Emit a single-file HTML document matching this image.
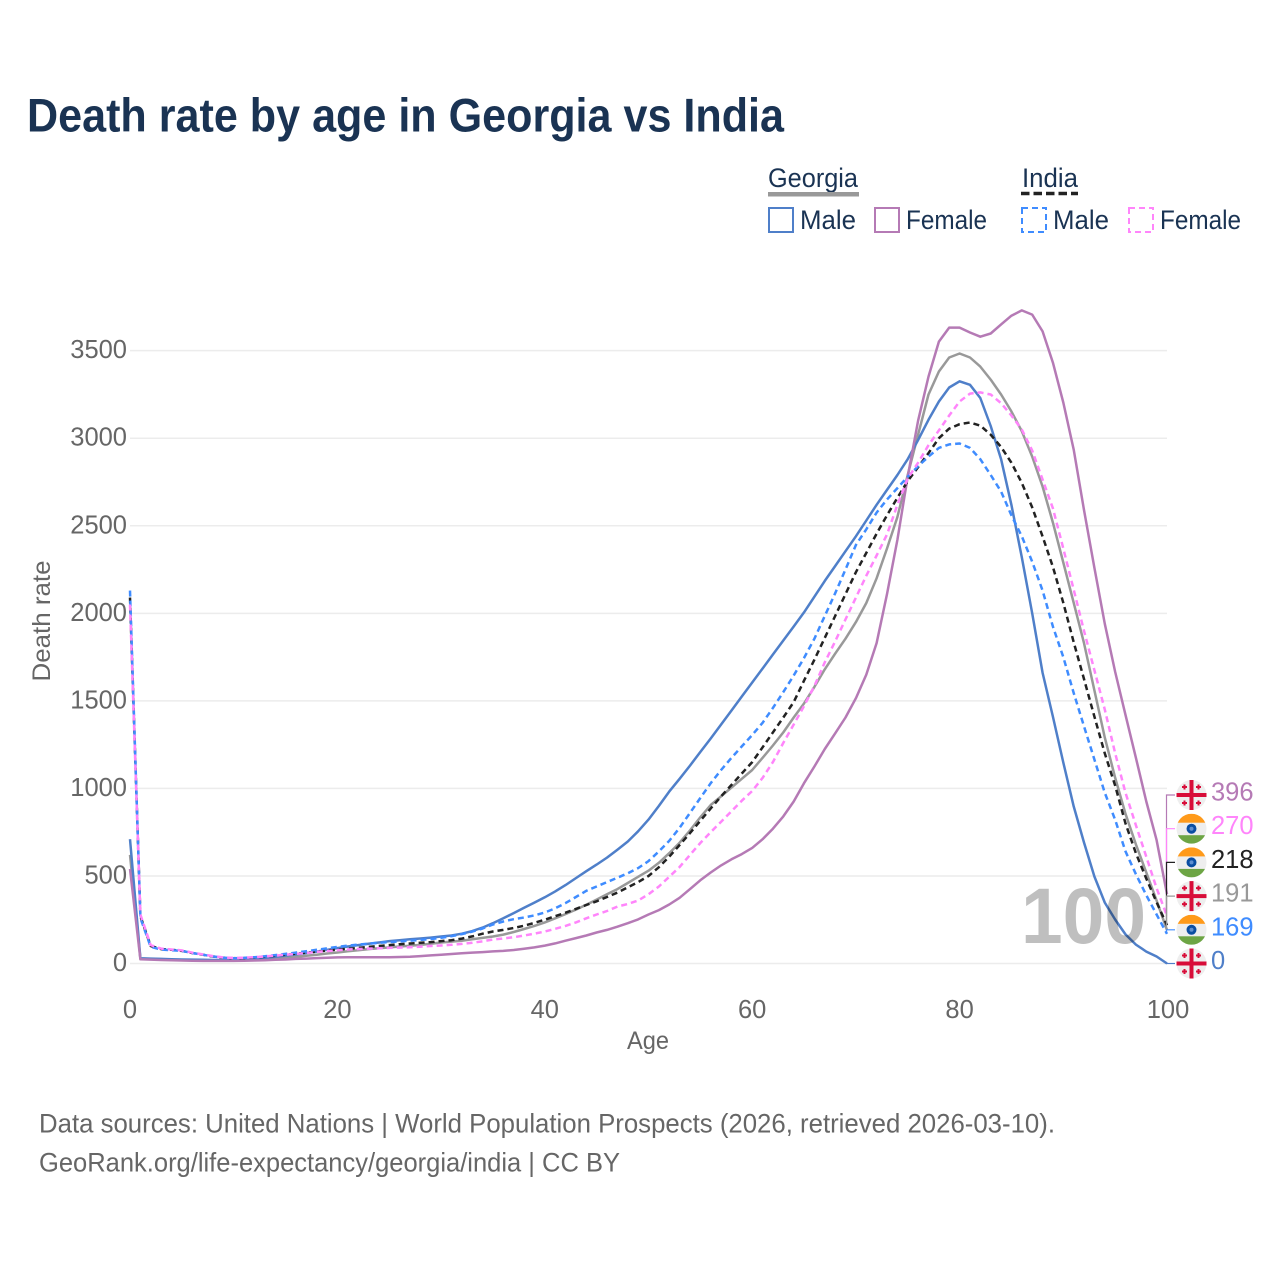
<!DOCTYPE html>
<html lang="en">
<head>
<meta charset="utf-8">
<title>Death rate by age in Georgia vs India</title>
<style>
html,body{margin:0;padding:0;background:#fff;}
svg{display:block;font-family:"Liberation Sans",sans-serif;}
</style>
</head>
<body>
<svg id="chart" xmlns="http://www.w3.org/2000/svg" width="1280" height="1280" viewBox="0 0 1280 1280">
  <defs>
    <clipPath id="flag-clip"><circle cx="0" cy="0" r="15"/></clipPath>
    <symbol id="flag-georgia" overflow="visible">
      <circle cx="0" cy="0" r="15" fill="#eeeeee"/>
      <rect x="-15" y="-2" width="30" height="4" fill="#d80d39"/>
      <rect x="-2" y="-15" width="4" height="30" fill="#d80d39"/>
      <path d="M-9.500-8h5M-7-10.500v5M4.500-8h5M7-10.500v5M-9.500 8h5M-7 5.500v5M4.500 8h5M7 5.500v5" stroke="#d80d39" stroke-width="2" fill="none"/>
    </symbol>
    <symbol id="flag-india" overflow="visible">
      <g clip-path="url(#flag-clip)">
        <rect x="-15" y="-15" width="30" height="30" fill="#eeeeee"/>
        <rect x="-15" y="-15" width="30" height="9" fill="#ff9a1a"/>
        <rect x="-15" y="6.500" width="30" height="8.500" fill="#6da544"/>
      </g>
      <circle cx="0" cy="0" r="5" fill="#0b4ea2"/>
      <circle cx="0" cy="0" r="2" fill="#5f8fd0"/>
    </symbol>
  </defs>

  <text x="27" y="131.500" font-size="47" font-weight="700" fill="#1a3353" textLength="757" lengthAdjust="spacingAndGlyphs">Death rate by age in Georgia vs India</text>

  <g fill="#1a3353" font-size="27">
    <text x="768" y="187" textLength="90" lengthAdjust="spacingAndGlyphs">Georgia</text>
    <rect x="768" y="192" width="91" height="4.500" fill="#999999"/>
    <text x="1022" y="187" textLength="56" lengthAdjust="spacingAndGlyphs">India</text>
    <line x1="1021" y1="193.500" x2="1078" y2="193.500" stroke="#222222" stroke-width="3.500" stroke-dasharray="8.500 4"/>
    <rect x="769" y="208" width="24" height="24" fill="none" stroke="#4f7fc9" stroke-width="2"/>
    <text x="800" y="229" textLength="56" lengthAdjust="spacingAndGlyphs">Male</text>
    <rect x="875" y="208" width="24" height="24" fill="none" stroke="#b57ab5" stroke-width="2"/>
    <text x="906" y="229" textLength="81" lengthAdjust="spacingAndGlyphs">Female</text>
    <rect x="1022" y="208" width="24" height="24" fill="none" stroke="#3f8cff" stroke-width="2" stroke-dasharray="6 4"/>
    <text x="1053" y="229" textLength="56" lengthAdjust="spacingAndGlyphs">Male</text>
    <rect x="1129" y="208" width="24" height="24" fill="none" stroke="#ff85fb" stroke-width="2" stroke-dasharray="6 4"/>
    <text x="1160" y="229" textLength="81" lengthAdjust="spacingAndGlyphs">Female</text>
  </g>

  <g id="grid"></g>
  <g id="y-ticks" fill="#666666" font-size="25.500" text-anchor="end"></g>
  <g id="x-ticks" fill="#666666" font-size="25.500" text-anchor="middle"></g>
  <text x="648" y="1049" fill="#666666" font-size="25" text-anchor="middle" textLength="42" lengthAdjust="spacingAndGlyphs">Age</text>
  <text transform="translate(50,621) rotate(-90)" fill="#666666" font-size="25" text-anchor="middle" textLength="121" lengthAdjust="spacingAndGlyphs">Death rate</text>

  <g id="series"></g>
  <text id="age-watermark" x="1021" y="943" fill="#000000" fill-opacity="0.25" font-size="79" font-weight="700" textLength="125" lengthAdjust="spacingAndGlyphs">100</text>
  <g id="connectors"></g>
  <g id="end-labels"></g>

  <g fill="#666666" font-size="27">
    <text x="39" y="1132.500" textLength="1016" lengthAdjust="spacingAndGlyphs">Data sources: United Nations | World Population Prospects (2026, retrieved 2026-03-10).</text>
    <text x="39" y="1171.500" textLength="581" lengthAdjust="spacingAndGlyphs">GeoRank.org/life-expectancy/georgia/india | CC BY</text>
  </g>
</svg>
<script>
var yTickValues = [0, 500, 1000, 1500, 2000, 2500, 3000, 3500];
var xTickValues = [0, 20, 40, 60, 80, 100];

var georgiaTotal = [620,27,25,23,21,20,19,18,18,18,18,20,22,25,29,34,39,44,50,57,63,70,76,82,87,92,97,101,106,113,120,125,130,138,146,154,165,180,197,215,235,258,282,308,336,365,395,425,460,495,530,575,630,690,760,835,905,955,1005,1055,1105,1175,1245,1320,1405,1485,1580,1680,1770,1855,1950,2059,2200,2370,2550,2790,3020,3250,3381,3461,3484,3461,3409,3335,3250,3153,3040,2895,2724,2518,2290,2060,1830,1560,1290,1060,855,680,520,360,191];
var georgiaMale = [710,30,28,26,24,23,22,21,20,20,21,23,27,32,38,45,52,60,68,78,88,97,105,113,120,128,133,138,143,148,154,160,170,185,205,230,258,288,318,348,378,412,448,488,527,565,605,650,697,755,822,900,982,1055,1130,1208,1285,1365,1445,1525,1605,1685,1765,1845,1925,2005,2095,2185,2270,2355,2440,2530,2620,2705,2790,2880,2990,3105,3210,3290,3325,3305,3230,3070,2880,2620,2320,2000,1660,1410,1148,897,691,497,348,251,166,108,68,40,0];
var georgiaFemale = [540,24,22,20,18,17,16,15,15,15,15,16,17,19,21,23,26,28,31,33,35,36,36,36,36,36,37,39,42,46,50,54,58,62,65,69,72,77,84,92,102,115,130,145,160,177,192,210,230,252,280,305,337,375,425,475,520,560,595,625,660,710,770,840,925,1030,1125,1225,1315,1405,1515,1650,1830,2110,2420,2780,3100,3352,3552,3632,3632,3604,3580,3598,3650,3700,3730,3706,3610,3432,3204,2935,2590,2260,1940,1665,1420,1175,925,705,396];
var indiaTotal = [2090,270,100,82,78,72,60,50,40,33,30,31,34,38,44,50,56,62,68,74,79,84,89,95,100,105,110,114,118,122,128,133,142,155,170,183,192,203,216,232,250,270,290,312,334,355,380,405,435,465,500,550,610,677,745,815,885,955,1020,1085,1150,1235,1320,1405,1493,1615,1735,1860,1985,2110,2235,2345,2455,2560,2660,2755,2835,2915,3000,3055,3080,3090,3072,3020,2950,2860,2745,2605,2439,2265,2060,1835,1625,1410,1200,1015,800,630,485,350,218];
var indiaMale = [2130,260,95,80,76,72,60,50,40,33,30,32,36,41,48,55,62,70,78,87,95,102,108,113,118,122,126,130,135,140,147,156,168,182,200,223,240,253,263,275,291,315,345,380,415,440,465,490,515,545,585,640,700,775,860,945,1030,1105,1175,1240,1305,1375,1460,1550,1645,1745,1855,1985,2115,2250,2390,2480,2575,2650,2715,2780,2840,2895,2945,2965,2970,2945,2880,2790,2695,2560,2440,2295,2130,1925,1750,1545,1355,1165,975,820,640,510,390,280,169];
var indiaFemale = [2050,280,105,85,80,75,62,52,42,35,32,33,36,40,45,50,55,60,66,71,76,80,83,85,87,89,91,93,96,100,103,107,112,118,127,137,143,150,160,170,183,198,215,235,258,280,300,325,340,360,395,440,495,551,620,688,750,810,870,930,985,1060,1150,1260,1365,1470,1585,1720,1840,1965,2090,2215,2330,2450,2620,2770,2860,2960,3045,3130,3210,3255,3262,3250,3200,3130,3050,2930,2764,2600,2370,2135,1900,1675,1450,1200,975,790,610,430,270];

var seriesList = [
  {name: 'georgia-total',  values: georgiaTotal,  color: '#999999', dash: '',    width: 2.5, flag: 'flag-georgia'},
  {name: 'georgia-male',   values: georgiaMale,   color: '#4f7fc9', dash: '',    width: 2.5, flag: 'flag-georgia'},
  {name: 'georgia-female', values: georgiaFemale, color: '#b57ab5', dash: '',    width: 2.5, flag: 'flag-georgia'},
  {name: 'india-total',    values: indiaTotal,    color: '#222222', dash: '6 4', width: 2.5, flag: 'flag-india'},
  {name: 'india-male',     values: indiaMale,     color: '#3f8cff', dash: '6 4', width: 2.5, flag: 'flag-india'},
  {name: 'india-female',   values: indiaFemale,   color: '#ff85fb', dash: '6 4', width: 2.5, flag: 'flag-india'}
];

var NS = 'http://www.w3.org/2000/svg';
function xScale(age) { return 130 + age * 10.37; }
function yScale(value) { return 963.5 - value * 0.17509; }
function make(tag, parent) {
  var el = document.createElementNS(NS, tag);
  parent.appendChild(el);
  return el;
}

var gridGroup = document.getElementById('grid');
var yTickGroup = document.getElementById('y-ticks');
yTickValues.forEach(function (v) {
  var gridLine = make('line', gridGroup);
  
  
  gridLine.setAttribute('x1', xScale(0));
  gridLine.setAttribute('x2', xScale(100));
  gridLine.setAttribute('y1', yScale(v));
  gridLine.setAttribute('y2', yScale(v));
  gridLine.setAttribute('stroke', '#ececec');
  gridLine.setAttribute('stroke-width', '1.5');
  var label = make('text', yTickGroup);
  
  
  label.setAttribute('x', 127);
  label.setAttribute('y', yScale(v) + 7.5);
  label.textContent = v;
});

var xTickGroup = document.getElementById('x-ticks');
xTickValues.forEach(function (a) {
  var label = make('text', xTickGroup);
  
  
  label.setAttribute('x', xScale(a) + (a === 100 ? 1 : 0));
  label.setAttribute('y', 1018);
  label.textContent = a;
});

var seriesGroup = document.getElementById('series');
seriesList.forEach(function (s) {
  var line = make('polyline', seriesGroup);
  
  
  line.setAttribute('fill', 'none');
  line.setAttribute('stroke', s.color);
  line.setAttribute('stroke-width', s.width);
  line.setAttribute('stroke-linejoin', 'round');
  if (s.dash) { line.setAttribute('stroke-dasharray', s.dash); }
  line.setAttribute('points', s.values.map(function (v, i) {
    return xScale(i).toFixed(1) + ',' + yScale(v).toFixed(1);
  }).join(' '));
});

var endGroup = document.getElementById('end-labels');
var connectorGroup = document.getElementById('connectors');
var ordered = seriesList.slice().sort(function (a, b) {
  return a.values[a.values.length - 1] - b.values[b.values.length - 1];
});
var previousY = Infinity;
ordered.forEach(function (s) {
  var value = s.values[s.values.length - 1];
  var lineY = yScale(value);
  var slotY = Math.min(lineY, previousY - 33.7);
  previousY = slotY;

  var connector = document.createElementNS(NS, 'polyline');
  connectorGroup.insertBefore(connector, connectorGroup.firstChild);
  
  
  connector.setAttribute('fill', 'none');
  connector.setAttribute('stroke', s.color);
  connector.setAttribute('stroke-width', '1.2');
  connector.setAttribute('points', '1166.5,' + lineY.toFixed(1) + ' 1166.5,' + slotY.toFixed(1) + ' 1175,' + slotY.toFixed(1));

  var flag = make('use', endGroup);
  
  
  flag.setAttribute('href', '#' + s.flag);
  flag.setAttribute('transform', 'translate(1191.5,' + slotY.toFixed(1) + ')');

  var label = make('text', endGroup);
  
  
  label.setAttribute('x', 1211);
  label.setAttribute('y', slotY + 5.5);
  label.setAttribute('fill', s.color);
  label.setAttribute('font-size', '25.5');
  label.textContent = value;
});
</script>
</body>
</html>
